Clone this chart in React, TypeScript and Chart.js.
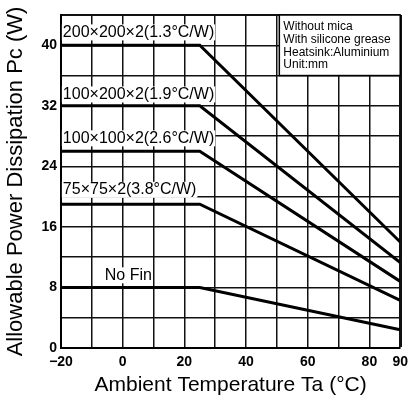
import { useEffect, useRef } from 'react';
import { Chart, registerables } from 'chart.js';

Chart.register(...registerables);

// Ambient temperature breakpoints (°C)
const temps = [-20, 25, 90];
// Allowable power dissipation (W) for each heatsink
const fin200x200 = [40, 40, 14];
const fin100x200 = [32, 32, 11.3];
const fin100x100 = [26, 26, 8.8];
const fin75x75 = [19, 19, 6.3];
const noFin = [8, 8, 2.4];

const seriesValues = [fin200x200, fin100x200, fin100x100, fin75x75, noFin];
const seriesLabels = [
  '200×200×2(1.3°C/W)',
  '100×200×2(1.9°C/W)',
  '100×100×2(2.6°C/W)',
  '75×75×2(3.8°C/W)',
  'No Fin',
];
// label anchors in data units (temperature, power)
const labelTemps = [-19.4, -19.4, -19.4, -19.4, -5.8];
const labelPowers = [41.7, 33.5, 27.7, 20.9, 9.6];

const noteLines = ['Without mica', 'With silicone grease', 'Heatsink:Aluminium', 'Unit:mm'];
const noteBox = { x0: 50.8, x1: 90, y0: 36, y1: 44 };

const xLabeledTicks = [-20, 0, 20, 40, 60, 80, 90];
const yLabeledTicks = [0, 8, 16, 24, 32, 40];

const FONT = '"Liberation Sans", Arial, Helvetica, sans-serif';

const annotatePlugin = {
  id: 'annotate',
  afterDraw(chart: any) {
    const { ctx } = chart;
    const x = chart.scales.x;
    const y = chart.scales.y;
    ctx.save();
    // note box
    const bx0 = x.getPixelForValue(noteBox.x0);
    const bx1 = x.getPixelForValue(noteBox.x1);
    const by0 = y.getPixelForValue(noteBox.y1);
    const by1 = y.getPixelForValue(noteBox.y0);
    ctx.fillStyle = '#fff';
    ctx.fillRect(bx0, by0, bx1 - bx0, by1 - by0);
    ctx.strokeStyle = '#000';
    ctx.lineWidth = 1.5;
    ctx.strokeRect(bx0, by0, bx1 - bx0, by1 - by0);
    ctx.fillStyle = '#000';
    ctx.font = `12px ${FONT}`;
    ctx.textBaseline = 'middle';
    ctx.textAlign = 'left';
    noteLines.forEach((t, i) => {
      ctx.fillText(t, bx0 + 4, by0 + 12 + i * 12.7);
    });
    // series labels
    ctx.font = `16px ${FONT}`;
    seriesLabels.forEach((t, i) => {
      const px = x.getPixelForValue(labelTemps[i]);
      const py = y.getPixelForValue(labelPowers[i]);
      const w = ctx.measureText(t).width;
      ctx.fillStyle = '#fff';
      ctx.fillRect(px - 1, py - 8, w + 2, 16);
      ctx.fillStyle = '#000';
      ctx.fillText(t, px, py);
    });
    ctx.restore();
  },
};

export default function App() {
  const canvasRef = useRef<HTMLCanvasElement | null>(null);

  useEffect(() => {
    if (!canvasRef.current) return;
    const datasets = seriesValues.map((vals, i) => ({
      label: seriesLabels[i],
      data: temps.map((t, j) => ({ x: t, y: vals[j] })),
      borderColor: '#000',
      backgroundColor: '#000',
      borderWidth: 3,
      pointRadius: 0,
      tension: 0,
      fill: false,
    }));
    const chart = new Chart(canvasRef.current, {
      type: 'line',
      data: { datasets },
      plugins: [annotatePlugin],
      options: {
        animation: false,
        responsive: true,
        maintainAspectRatio: false,
        layout: { padding: { left: 0, right: 11, top: 15, bottom: 0 } },
        plugins: {
          legend: { display: false },
          tooltip: { enabled: false },
        },
        scales: {
          x: {
            type: 'linear',
            min: -20,
            max: 90,
            ticks: {
              stepSize: 10,
              autoSkip: false,
              maxRotation: 0,
              padding: 6,
              color: '#000',
              font: { family: FONT, size: 14, weight: 'bold' },
              callback: (v: any) =>
                xLabeledTicks.includes(Number(v))
                  ? Number(v) < 0
                    ? '−' + Math.abs(Number(v))
                    : String(v)
                  : '',
            },
            grid: {
              color: '#111',
              lineWidth: (c: any) => (c.tick && c.tick.value === 90 ? 3 : 1.5),
              drawTicks: false,
            },
            border: { color: '#000', width: 2 },
            title: {
              display: true,
              text: 'Ambient Temperature Ta (°C)',
              color: '#000',
              font: { family: FONT, size: 21 },
              padding: { top: 0, bottom: 4 },
            },
            afterFit: (s: any) => {
              s.height = 54;
            },
          },
          y: {
            type: 'linear',
            min: 0,
            max: 44,
            ticks: {
              stepSize: 4,
              autoSkip: false,
              padding: 4,
              color: '#000',
              font: { family: FONT, size: 14, weight: 'bold' },
              callback: (v: any) => (yLabeledTicks.includes(Number(v)) ? String(v) : ''),
            },
            grid: {
              color: '#111',
              lineWidth: (c: any) => (c.tick && c.tick.value === 44 ? 2 : 1.5),
              drawTicks: false,
            },
            border: { color: '#000', width: 2 },
            title: {
              display: true,
              text: 'Allowable Power Dissipation Pc (W)',
              color: '#000',
              font: { family: FONT, size: 22 },
              padding: { top: 3, bottom: 0 },
            },
            afterFit: (s: any) => {
              s.width = 61;
            },
          },
        },
      },
    });
    return () => chart.destroy();
  }, []);

  return (
    <div style={{ position: 'fixed', left: 0, top: 0, width: 414, height: 402, background: '#fff' }}>
      <canvas ref={canvasRef} />
    </div>
  );
}
